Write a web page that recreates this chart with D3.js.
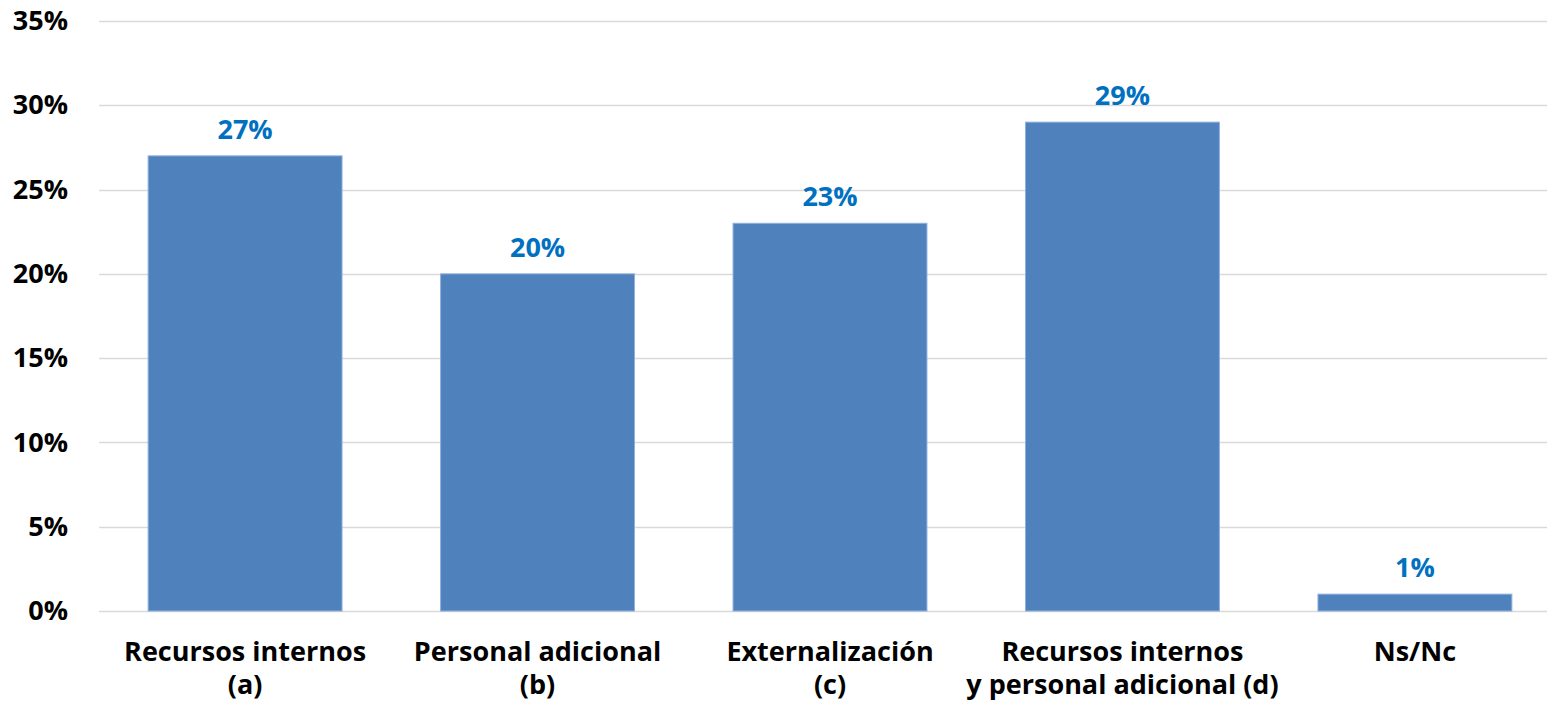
<!DOCTYPE html>
<html>
<head>
<meta charset="utf-8">
<script src="https://cdn.jsdelivr.net/npm/d3@7"></script>
<style>
  html, body { margin: 0; padding: 0; background: #fff; overflow: hidden; }
  text { font-family: "Open Sans", "Noto Sans", sans-serif; font-weight: bold; }
</style>
</head>
<body>
<svg id="chart" width="1547" height="703"></svg>
<script>
// datos
const categories = [
  ["Recursos internos", "(a)"],
  ["Personal adicional", "(b)"],
  ["Externalización", "(c)"],
  ["Recursos internos", "y personal adicional (d)"],
  ["Ns/Nc"]
];
const values = [27, 20, 23, 29, 1];
const yTicks = [0, 5, 10, 15, 20, 25, 30, 35];

const barColor = "#4f81bd";
const labelColor = "#0070c0";

const svg = d3.select("#chart");
const plotLeft = 99, plotRight = 1561, plotTop = 21, plotBottom = 611;

const x = d3.scaleBand()
  .domain(d3.range(values.length))
  .range([plotLeft, plotRight])
  .paddingInner(0.337)
  .paddingOuter(0.168);

const y = d3.scaleLinear()
  .domain([0, 35])
  .range([plotBottom, plotTop]);

// rejilla
svg.append("g")
  .selectAll("line")
  .data(yTicks)
  .enter()
  .append("line")
  .attr("x1", plotLeft)
  .attr("x2", plotRight)
  .attr("y1", d => Math.round(y(d)) + 0.5)
  .attr("y2", d => Math.round(y(d)) + 0.5)
  .attr("stroke", "#d9d9d9")
  .attr("stroke-width", 1.5);

// eje y
const yAxis = d3.axisLeft(y)
  .tickValues(yTicks)
  .tickFormat(d => d + "%")
  .tickSize(0)
  .tickPadding(0);
const gy = svg.append("g")
  .attr("transform", "translate(68,0)")
  .call(yAxis);
gy.select(".domain").remove();
gy.selectAll("text")
  .attr("font-size", 27)
  .attr("fill", "#000")
  .style("font-family", "'Open Sans', 'Noto Sans', sans-serif")
  .style("font-weight", "bold");

// barras
svg.selectAll(".bar")
  .data(values)
  .enter()
  .append("rect")
  .attr("class", "bar")
  .attr("x", (d, i) => x(i))
  .attr("y", d => y(d))
  .attr("width", x.bandwidth())
  .attr("height", d => plotBottom - y(d))
  .attr("fill", barColor)
  .attr("stroke", "#8eb0dc")
  .attr("stroke-width", 1);

// etiquetas de valor
svg.selectAll(".val")
  .data(values)
  .enter()
  .append("text")
  .attr("class", "val")
  .attr("x", (d, i) => x(i) + x.bandwidth() / 2)
  .attr("y", d => y(d) - 17)
  .attr("text-anchor", "middle")
  .attr("font-size", 27)
  .attr("fill", labelColor)
  .text(d => d + "%");

// categorías
const cat = svg.selectAll(".cat")
  .data(categories)
  .enter()
  .append("text")
  .attr("class", "cat")
  .attr("text-anchor", "middle")
  .attr("font-size", 27)
  .attr("fill", "#000")
  .attr("transform", (d, i) => "translate(" + (x(i) + x.bandwidth() / 2) + ",0)");
cat.selectAll("tspan")
  .data(d => d)
  .enter()
  .append("tspan")
  .attr("x", 0)
  .attr("y", (d, j) => 661 + j * 33)
  .text(d => d);
</script>
</body>
</html>
